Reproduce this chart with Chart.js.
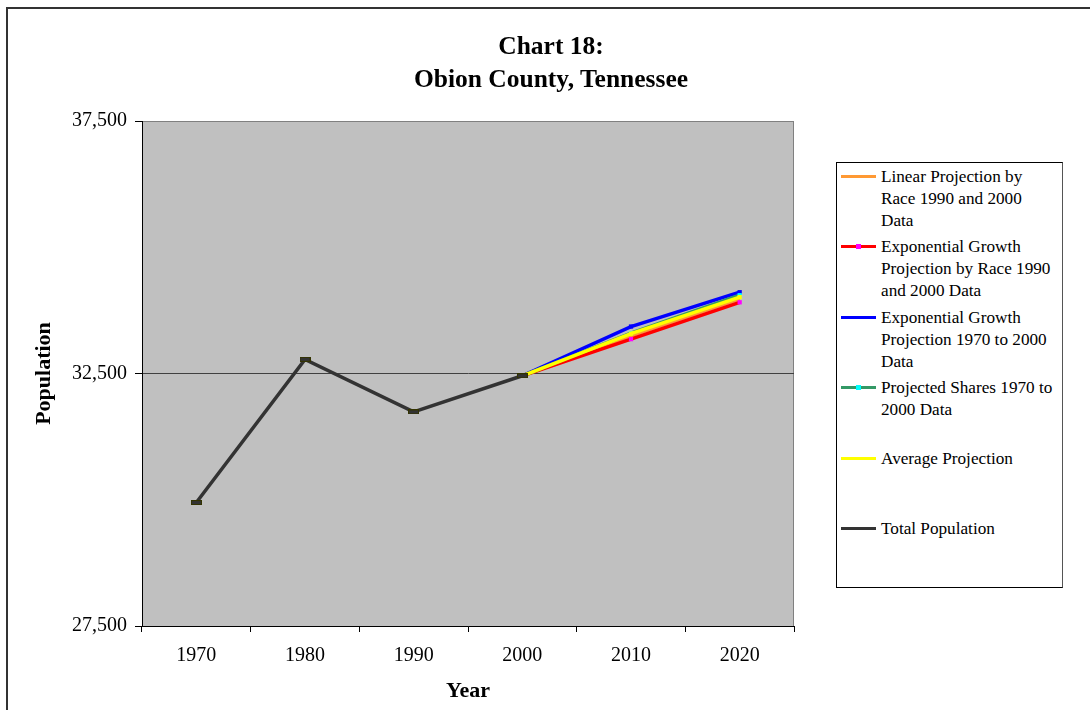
<!DOCTYPE html>
<html>
<head>
<meta charset="utf-8">
<script src="https://cdn.jsdelivr.net/npm/chart.js@4/dist/chart.umd.min.js"></script>
<style>
    body {
        margin: 0;
        background: #ffffff;
        font-family: "Liberation Serif", "Times New Roman", serif;
    }
    #frame {
        position: absolute;
        left: 6px;
        top: 7px;
        width: 1200px;
        height: 800px;
        border: 2px solid #333333;
    }
    #chartWrap {
        position: absolute;
        left: 0;
        top: 0;
        width: 1090px;
        height: 710px;
    }
    #chartTitle {
        position: absolute;
        left: 351px;
        top: 29px;
        width: 400px;
        text-align: center;
        font-weight: bold;
        font-size: 25.5px;
        line-height: 33px;
        color: #000000;
    }
    #legendBox {
        position: absolute;
        left: 836px;
        top: 162px;
        width: 225px;
        height: 424px;
        border: 1px solid #000000;
        border-right-color: #555555;
        background: #ffffff;
    }
    .legend-item {
        position: absolute;
        left: 4px;
        font-size: 17.2px;
        line-height: 22px;
        color: #000000;
    }
    .legend-line {
        position: absolute;
        left: 0;
        top: 9px;
        width: 35px;
        height: 3px;
    }
    .legend-dot {
        position: absolute;
        left: 15px;
        top: -1px;
        width: 5px;
        height: 5px;
    }
    .legend-text {
        position: absolute;
        left: 40px;
        top: 0;
        white-space: nowrap;
    }
</style>
</head>
<body>
<div id="frame"></div>
<div id="chartWrap"><canvas id="popChart" width="1090" height="710"></canvas></div>
<div id="chartTitle">Chart 18:<br>Obion County, Tennessee</div>
<div id="legendBox"></div>
<script>
const years = ['1970', '1980', '1990', '2000', '2010', '2020'];

const totalPopulation = [29945, 32780, 31740, 32455, null, null];
const linearByRace = [null, null, null, 32455, 33250, 33980];
const expGrowthByRace = [null, null, null, 32455, 33180, 33910];
const expGrowth1970to2000 = [null, null, null, 32455, 33430, 34110];
const projectedShares = [null, null, null, 32455, 33300, 34050];
const averageProjection = [null, null, null, 32455, 33290, 34012];

const yTicks = [27500, 32500, 37500];

const seriesNames = [
    'Linear Projection by\nRace 1990 and 2000\nData',
    'Exponential Growth\nProjection by Race 1990\nand 2000 Data',
    'Exponential Growth\nProjection 1970 to 2000\nData',
    'Projected Shares 1970 to\n2000 Data',
    'Average Projection',
    'Total Population'
];
const seriesValues = [linearByRace, expGrowthByRace, expGrowth1970to2000, projectedShares, averageProjection, totalPopulation];
const lineColors = ['#ff9933', '#ff0000', '#0000ff', '#339966', '#ffff00', '#333333'];
const markerColors = [null, '#ff00ff', '#0000ff', '#00ffff', '#ffff00', null];
const drawOrder = [5, 4, 3, 2, 1, 0];

// dash shaped marker used by the total population series
const dashMarker = document.createElement('canvas');
dashMarker.width = 11;
dashMarker.height = 5;
const dashCtx = dashMarker.getContext('2d');
dashCtx.fillStyle = '#333300';
dashCtx.fillRect(0, 0, 11, 5);
dashCtx.fillStyle = '#333333';
dashCtx.fillRect(1, 1, 9, 3);

const plotBackground = {
    id: 'plotBackground',
    beforeDraw(chart) {
        const { ctx, chartArea } = chart;
        ctx.save();
        ctx.fillStyle = '#c0c0c0';
        ctx.fillRect(chartArea.left, chartArea.top, chartArea.width, chartArea.height);
        ctx.strokeStyle = '#808080';
        ctx.lineWidth = 1;
        ctx.strokeRect(chartArea.left + 0.5, chartArea.top + 0.5, chartArea.width - 1, chartArea.height);
        ctx.restore();
    }
};

const datasets = seriesValues.map((values, i) => {
    const isTotal = i === seriesValues.length - 1;
    return {
        label: seriesNames[i].replace(/\n/g, ' '),
        data: values,
        borderColor: lineColors[i],
        backgroundColor: markerColors[i] || lineColors[i],
        borderWidth: isTotal ? 3.5 : 3.5,
        order: drawOrder[i],
        pointStyle: isTotal ? dashMarker : 'rect',
        pointRadius: isTotal ? 4 : (ctx) => (ctx.dataIndex > 3 && markerColors[i] ? 3 : 0),
        pointBorderWidth: 0,
        pointBorderColor: markerColors[i] || lineColors[i],
        spanGaps: false,
        tension: 0
    };
});

new Chart(document.getElementById('popChart'), {
    type: 'line',
    data: {
        labels: years,
        datasets: datasets
    },
    options: {
        responsive: false,
        animation: false,
        layout: {
            padding: { top: 121, right: 296, bottom: 0, left: 20 }
        },
        plugins: {
            legend: { display: false },
            title: { display: false },
            tooltip: { enabled: false }
        },
        scales: {
            x: {
                type: 'category',
                offset: true,
                grid: {
                    offset: true,
                    drawOnChartArea: false,
                    drawTicks: true,
                    tickLength: 6,
                    tickColor: '#000000'
                },
                border: { display: true, color: '#000000', width: 1 },
                ticks: {
                    color: '#000000',
                    padding: 12,
                    font: { family: 'Liberation Serif', size: 20 },
                    maxRotation: 0
                },
                title: {
                    display: true,
                    text: 'Year',
                    color: '#000000',
                    padding: { top: 0, bottom: 5 },
                    font: { family: 'Liberation Serif', size: 22, weight: 'bold' }
                },
                afterFit(scale) {
                    scale.height = 84;
                }
            },
            y: {
                min: 27500,
                max: 37500,
                afterBuildTicks(scale) {
                    scale.ticks = yTicks.map((v) => ({ value: v }));
                },
                grid: {
                    color: (ctx) => (ctx.tick && ctx.tick.value === 37500 ? '#808080' : '#404040'),
                    lineWidth: 1,
                    tickLength: 7,
                    tickColor: '#000000'
                },
                border: { display: true, color: '#000000', width: 1 },
                ticks: {
                    color: '#000000',
                    padding: 8,
                    font: { family: 'Liberation Serif', size: 20 },
                    callback: (value) => Number(value).toLocaleString('en-US')
                },
                title: {
                    display: true,
                    text: 'Population',
                    color: '#000000',
                    padding: { top: 11, bottom: 0 },
                    font: { family: 'Liberation Serif', size: 22, weight: 'bold' }
                },
                afterFit(scale) {
                    scale.width = 122;
                }
            }
        }
    },
    plugins: [plotBackground]
});

const legendBox = document.getElementById('legendBox');
legendBox.innerHTML = seriesNames.map((name, i) => `
    <div class="legend-item" style="top: ${3 + i * 70.4}px;">
        <div class="legend-line" style="background: ${lineColors[i]};">
            ${markerColors[i] && i !== 2 && i !== 4 ? `<div class="legend-dot" style="background: ${markerColors[i]};"></div>` : ''}
        </div>
        <div class="legend-text">${name.split('\n').join('<br>')}</div>
    </div>
`).join('');
</script>
</body>
</html>
